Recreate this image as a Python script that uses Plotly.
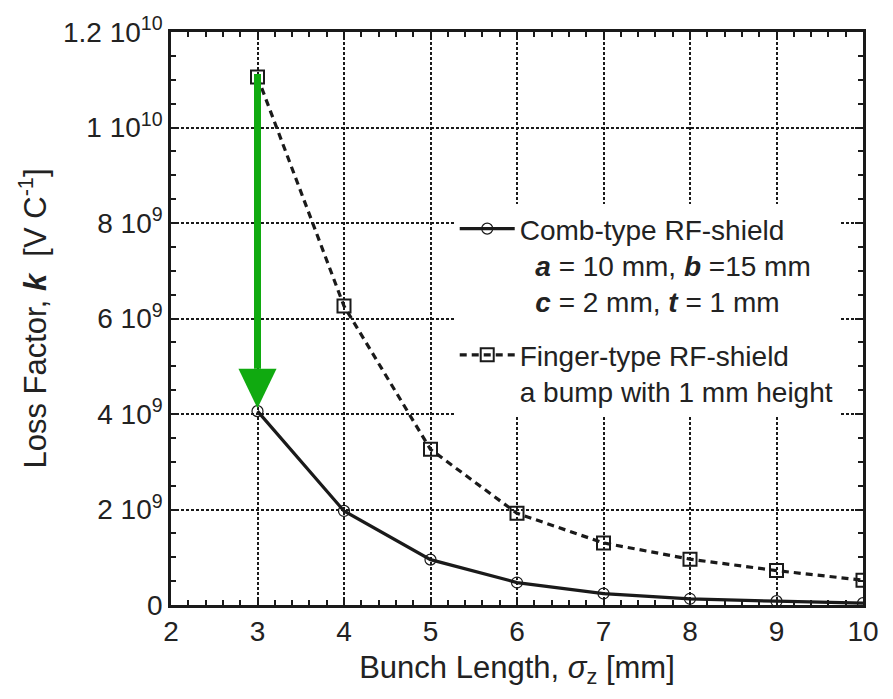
import plotly.graph_objects as go

# Data
bunch_length = [3, 4, 5, 6, 7, 8, 9, 10]
comb_k = [4.06e9, 1.97e9, 0.95e9, 0.47e9, 0.24e9, 0.13e9, 0.08e9, 0.04e9]
finger_k = [11.06e9, 6.26e9, 3.26e9, 1.92e9, 1.30e9, 0.96e9, 0.72e9, 0.52e9]

y_tickvals = [0, 2e9, 4e9, 6e9, 8e9, 1e10, 1.2e10]
y_ticktext = ["0", "2 10<sup>9</sup>", "4 10<sup>9</sup>", "6 10<sup>9</sup>",
              "8 10<sup>9</sup>", "1 10<sup>10</sup>", "1.2 10<sup>10</sup>"]

comb_name = ("Comb-type RF-shield<br>\u00a0\u00a0<b><i>a</i></b> = 10 mm, <b><i>b</i></b> =15 mm"
             "<br>\u00a0\u00a0<b><i>c</i></b> = 2 mm, <b><i>t</i></b> = 1 mm")
finger_name = "Finger-type RF-shield<br>a bump with 1 mm height"

# Green arrow (annotation) in data units
arrow_x = 3
arrow_top = 1.112e10
arrow_tip = 4.12e9
arrow_head_base = 4.95e9
arrow_head_half = 0.22
green = "#10aa10"

FONT = "Liberation Sans, Arial, Helvetica, sans-serif"

fig = go.Figure()
fig.add_trace(go.Scatter(
    x=bunch_length, y=comb_k, name=comb_name, mode="lines+markers",
    line=dict(color="#1a1a1a", width=3.2),
    marker=dict(symbol="circle-open", size=11, color="#1a1a1a", line=dict(width=1.2)),
    legendgroup="a",
))
fig.add_trace(go.Scatter(
    x=bunch_length, y=finger_k, name=finger_name, mode="lines+markers",
    line=dict(color="#1a1a1a", width=3.2, dash="7px,5px"),
    marker=dict(symbol="square-open", size=13, color="#1a1a1a", line=dict(width=2)),
    legendgroup="b",
))

fig.add_shape(type="line", xref="x", yref="y", x0=arrow_x, x1=arrow_x,
              y0=arrow_top, y1=arrow_head_base, line=dict(color=green, width=7))
fig.add_shape(type="path", xref="x", yref="y",
              path=f"M {arrow_x - arrow_head_half},{arrow_head_base} L {arrow_x + arrow_head_half},{arrow_head_base} L {arrow_x},{arrow_tip} Z",
              fillcolor=green, line=dict(color=green, width=0))

axis_common = dict(
    showline=True, linecolor="#1a1a1a", linewidth=2.5, mirror="allticks",
    ticks="inside", ticklen=8, tickwidth=2, tickcolor="#1a1a1a",
    showgrid=True, gridcolor="#1a1a1a", gridwidth=1.5, griddash="3px,2px",
    zeroline=False,
    tickfont=dict(family=FONT, size=28, color="#222"),
)

fig.update_xaxes(
    range=[2, 10], dtick=1, tick0=2,
    minor=dict(dtick=0.2, ticks="inside", ticklen=5, tickwidth=1.5, tickcolor="#1a1a1a", showgrid=False),
    title=dict(text="Bunch Length, <i>σ</i><sub>z</sub> [mm]", font=dict(family=FONT, size=31, color="#222"), standoff=10),
    **axis_common,
)
fig.update_yaxes(
    range=[0, 1.2e10], tickvals=y_tickvals, ticktext=y_ticktext,
    minor=dict(tickvals=[i * 5e8 for i in range(25)], ticks="inside", ticklen=5, tickwidth=1.5, tickcolor="#1a1a1a", showgrid=False),
    title=dict(text="Loss Factor, <b><i>k</i></b>  [V C<sup>-1</sup>]", font=dict(family=FONT, size=31, color="#222"), standoff=8),
    **axis_common,
)

fig.update_layout(
    width=893, height=699,
    margin=dict(l=171, r=30, t=32, b=94),
    paper_bgcolor="white", plot_bgcolor="white",
    font=dict(family=FONT, color="#222"),
    legend=dict(
        x=0.41, y=0.7, xanchor="left", yanchor="top",
        bgcolor="white", borderwidth=0,
        font=dict(family=FONT, size=28, color="#222"),
        valign="top", tracegroupgap=14, traceorder="grouped",
        itemwidth=55,
    ),
    showlegend=True,
)

fig.write_html("out.html", config={"displayModeBar": False},
               post_script="document.body.style.margin='0';")
